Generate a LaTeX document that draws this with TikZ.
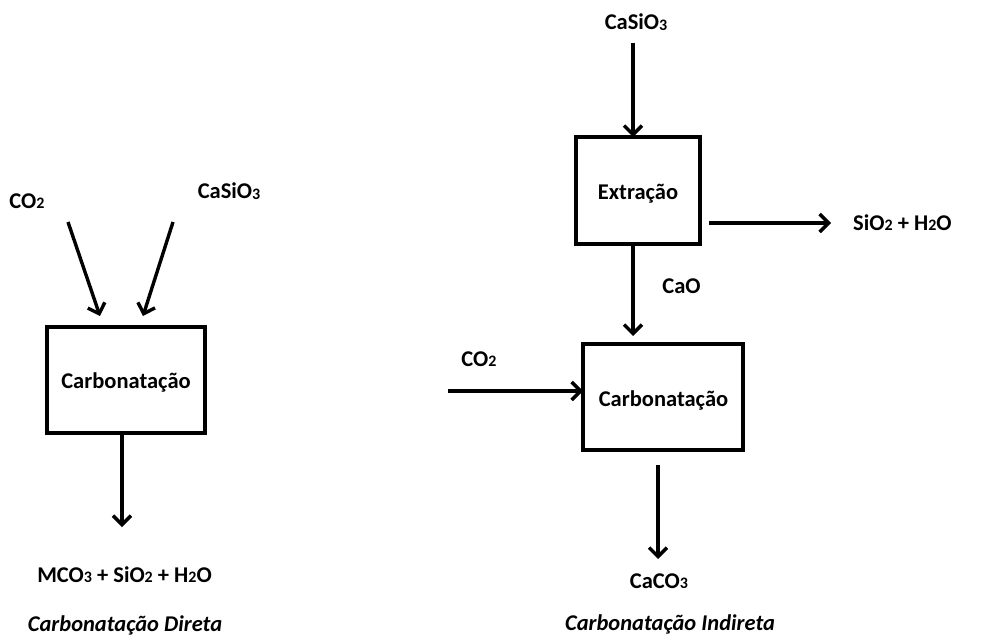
\documentclass[tikz,border=0pt]{standalone}
\usepackage{fontspec}
\setmainfont{Carlito}
\usetikzlibrary{arrows.meta}
\newcommand{\sbs}[1]{\raisebox{-0.6pt}{\fontsize{16}{16}\selectfont #1}}
\begin{document}
\begin{tikzpicture}[x=1pt,y=-1pt,
  lbl/.style={font=\bfseries\fontsize{22.5}{24}\selectfont, inner sep=0pt, anchor=base},
  ilbl/.style={font=\bfseries\itshape\fontsize{22.5}{24}\selectfont, inner sep=0pt, anchor=base},
  box/.style={draw, line width=3.4pt, inner sep=0pt, minimum width=#1},
  arr/.style={line width=3.4pt, -{Straight Barb[length=9pt,width=18pt]}},
  ]
\useasboundingbox (0,0) rectangle (1003,639);
% ---------- left: direct carbonation ----------
\node[box=158pt, minimum height=106pt] (b1) at (126,380) {};
\node[lbl] (t1) at (126,388) {Carbonatação};
\node[lbl] (co2a) at (27,208) {CO\sbs{2}};
\node[lbl] (csa) at (229,198.5) {CaSiO\sbs{3}};
\node[lbl] (prodA) at (124.5,582) {MCO\sbs{3} + SiO\sbs{2} + H\sbs{2}O};
\node[ilbl] (capA) at (125,631) {Carbonatação Direta};
\coordinate (a1s) at (68,222);
\coordinate (a1e) at (100,316);
\coordinate (a2s) at (173,222);
\coordinate (a2e) at (143,316);
\coordinate (a3s) at (122,433);
\coordinate (a3e) at (122,527);
\draw[arr] (a1s) -- (a1e);
\draw[arr] (a2s) -- (a2e);
\draw[arr] (a3s) -- (a3e);
% ---------- right: indirect carbonation ----------
\node[box=124pt, minimum height=107pt] (ext) at (638,190.5) {};
\node[lbl] (t2) at (638,199) {Extração};
\node[box=160pt, minimum height=106pt] (b2) at (663,397) {};
\node[lbl] (t3) at (663.5,406) {Carbonatação};
\node[lbl] (csb) at (636,30) {CaSiO\sbs{3}};
\node[lbl, anchor=base west] (prodB) at (853,230) {SiO\sbs{2} + H\sbs{2}O};
\node[lbl] (cao) at (681.5,293) {CaO};
\node[lbl] (co2b) at (479,366) {CO\sbs{2}};
\node[lbl] (caco) at (659,588) {CaCO\sbs{3}};
\node[ilbl] (capB) at (670,630) {Carbonatação Indireta};
\coordinate (r1s) at (633,43);
\coordinate (r1e) at (633,137);
\coordinate (r2s) at (709,223);
\coordinate (r2e) at (831,223);
\coordinate (r3s) at (633,244);
\coordinate (r3e) at (633,336);
\coordinate (r4s) at (448,391);
\coordinate (r4e) at (583,391);
\coordinate (r5s) at (658,465);
\coordinate (r5e) at (658,559);
\draw[arr] (r1s) -- (r1e);
\draw[arr] (r2s) -- (r2e);
\draw[arr] (r3s) -- (r3e);
\draw[arr] (r4s) -- (r4e);
\draw[arr] (r5s) -- (r5e);
\end{tikzpicture}
\end{document}
